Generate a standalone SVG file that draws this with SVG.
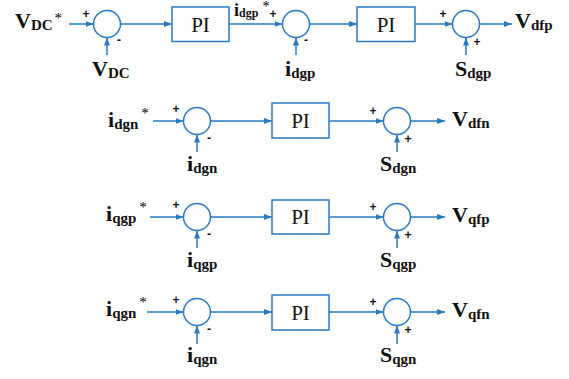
<svg xmlns="http://www.w3.org/2000/svg" width="569" height="379" viewBox="0 0 569 379">
<defs>
<style>
.ln{fill:none;stroke:#2A7AC0;stroke-width:1.5}
.sum{fill:#fff;stroke:#2A7AC0;stroke-width:1.5}
.blk{fill:#fff;stroke:#2A7AC0;stroke-width:1.5}
.pi{font-family:"Liberation Serif","Times New Roman",serif;font-size:21px;fill:#111;text-anchor:middle}
.lbl{font-family:"Liberation Serif","Times New Roman",serif;font-weight:bold;font-size:22px;fill:#111}
.sub{font-size:15px}
.sup{font-size:15px;font-weight:normal;fill:#000}
.sg{font-family:"Liberation Sans",Arial,sans-serif;font-weight:bold;font-size:12px;fill:#111;text-anchor:middle}
</style>
<marker id="ah" viewBox="0 0 8 6" refX="8" refY="3" markerWidth="8" markerHeight="6" markerUnits="userSpaceOnUse" orient="auto">
<path d="M0,0 L8,3 L0,6 Z" fill="#2A7AC0"/>
</marker>
</defs>
<rect width="569" height="379" fill="#fff"/>
<g id="connectors" class="ln" marker-end="url(#ah)">
<path d="M69,24 H93.5"/>
<path d="M107,55 V37.5"/>
<path d="M120.5,24 H172"/>
<path d="M229,24 H282.5"/>
<path d="M296,55 V37.5"/>
<path d="M309.5,24 H357"/>
<path d="M415,24 H452.5"/>
<path d="M466,55 V37.5"/>
<path d="M479.5,24 H512"/>
<path d="M153,121 H183.5"/>
<path d="M197,152 V134.5"/>
<path d="M210.5,121 H272"/>
<path d="M329,121 H383.5"/>
<path d="M397,152 V134.5"/>
<path d="M410.5,121 H445"/>
<path d="M150,217 H183.5"/>
<path d="M197,248 V230.5"/>
<path d="M210.5,217 H272"/>
<path d="M329,217 H383.5"/>
<path d="M397,248 V230.5"/>
<path d="M410.5,217 H445"/>
<path d="M147,312 H183.5"/>
<path d="M197,344 V325.5"/>
<path d="M210.5,312 H272"/>
<path d="M329,312 H383.5"/>
<path d="M397,344 V325.5"/>
<path d="M410.5,312 H445"/>
</g>
<!-- Row 1 -->
<g id="in_vdcref"><text class="lbl" x="15" y="28">V<tspan class="sub" dy="2">DC</tspan><tspan class="sup" dx="2" dy="-7">*</tspan></text></g>
<g id="sum1"><circle class="sum" cx="107" cy="24" r="13.5"/><text class="sg" x="86" y="18">+</text><text class="sg" x="119" y="44">-</text></g>
<g id="in_vdc"><text class="lbl" x="92" y="76">V<tspan class="sub" dy="2">DC</tspan></text></g>
<g id="pi1"><rect class="blk" x="172" y="7" width="57" height="34.5"/><text class="pi" x="200.5" y="31.5">PI</text></g>
<g id="lbl_idgpref"><text class="lbl" x="234" y="16" style="font-size:18px">i<tspan class="sub" dy="1" style="font-size:12px">dgp</tspan><tspan class="sup" dx="4" dy="-6" style="font-size:14px">*</tspan></text></g>
<g id="sum2"><circle class="sum" cx="296" cy="24" r="13.5"/><text class="sg" x="273" y="18">+</text><text class="sg" x="306" y="44">-</text></g>
<g id="in_idgp"><text class="lbl" x="285" y="76">i<tspan class="sub" dy="2">dgp</tspan></text></g>
<g id="pi2"><rect class="blk" x="357" y="7" width="58" height="34.5"/><text class="pi" x="386" y="31.5">PI</text></g>
<g id="sum3"><circle class="sum" cx="466" cy="24" r="13.5"/><text class="sg" x="443" y="18">+</text><text class="sg" x="477" y="46">+</text></g>
<g id="in_sdgp"><text class="lbl" x="455" y="76">S<tspan class="sub" dy="2">dgp</tspan></text></g>
<g id="out_vdfp"><text class="lbl" x="515" y="28">V<tspan class="sub" dy="2">dfp</tspan></text></g>
<!-- Row 2 -->
<g id="in_idgnref"><text class="lbl" x="108" y="127">i<tspan class="sub" dy="2">dgn</tspan><tspan class="sup" dx="3" dy="-11">*</tspan></text></g>
<g id="sum4"><circle class="sum" cx="197" cy="121" r="13.5"/><text class="sg" x="176" y="113">+</text><text class="sg" x="209" y="142">-</text></g>
<g id="in_idgn"><text class="lbl" x="187" y="171">i<tspan class="sub" dy="2">dgn</tspan></text></g>
<g id="pi3"><rect class="blk" x="272" y="103" width="57" height="35"/><text class="pi" x="300.5" y="128">PI</text></g>
<g id="sum5"><circle class="sum" cx="397" cy="121" r="13.5"/><text class="sg" x="373" y="115">+</text><text class="sg" x="408" y="143">+</text></g>
<g id="in_sdgn"><text class="lbl" x="380" y="171">S<tspan class="sub" dy="2">dgn</tspan></text></g>
<g id="out_vdfn"><text class="lbl" x="452" y="126">V<tspan class="sub" dy="2">dfn</tspan></text></g>
<!-- Row 3 -->
<g id="in_iqgpref"><text class="lbl" x="106" y="221">i<tspan class="sub" dy="2">qgp</tspan><tspan class="sup" dx="3" dy="-11">*</tspan></text></g>
<g id="sum6"><circle class="sum" cx="197" cy="217" r="13.5"/><text class="sg" x="176" y="209">+</text><text class="sg" x="209" y="238">-</text></g>
<g id="in_iqgp"><text class="lbl" x="187" y="267">i<tspan class="sub" dy="2">qgp</tspan></text></g>
<g id="pi4"><rect class="blk" x="272" y="200" width="57" height="34"/><text class="pi" x="300.5" y="224">PI</text></g>
<g id="sum7"><circle class="sum" cx="397" cy="217" r="13.5"/><text class="sg" x="373" y="211">+</text><text class="sg" x="408" y="239">+</text></g>
<g id="in_sqgp"><text class="lbl" x="380" y="267">S<tspan class="sub" dy="2">qgp</tspan></text></g>
<g id="out_vqfp"><text class="lbl" x="452" y="222">V<tspan class="sub" dy="2">qfp</tspan></text></g>
<!-- Row 4 -->
<g id="in_iqgnref"><text class="lbl" x="106" y="316">i<tspan class="sub" dy="2">qgn</tspan><tspan class="sup" dx="3" dy="-11">*</tspan></text></g>
<g id="sum8"><circle class="sum" cx="197" cy="312" r="13.5"/><text class="sg" x="176" y="304">+</text><text class="sg" x="209" y="333">-</text></g>
<g id="in_iqgn"><text class="lbl" x="187" y="362">i<tspan class="sub" dy="2">qgn</tspan></text></g>
<g id="pi5"><rect class="blk" x="272" y="295" width="57" height="35"/><text class="pi" x="300.5" y="320">PI</text></g>
<g id="sum9"><circle class="sum" cx="397" cy="312" r="13.5"/><text class="sg" x="373" y="306">+</text><text class="sg" x="408" y="334">+</text></g>
<g id="in_sqgn"><text class="lbl" x="380" y="362">S<tspan class="sub" dy="2">qgn</tspan></text></g>
<g id="out_vqfn"><text class="lbl" x="452" y="317">V<tspan class="sub" dy="2">qfn</tspan></text></g>
</svg>
